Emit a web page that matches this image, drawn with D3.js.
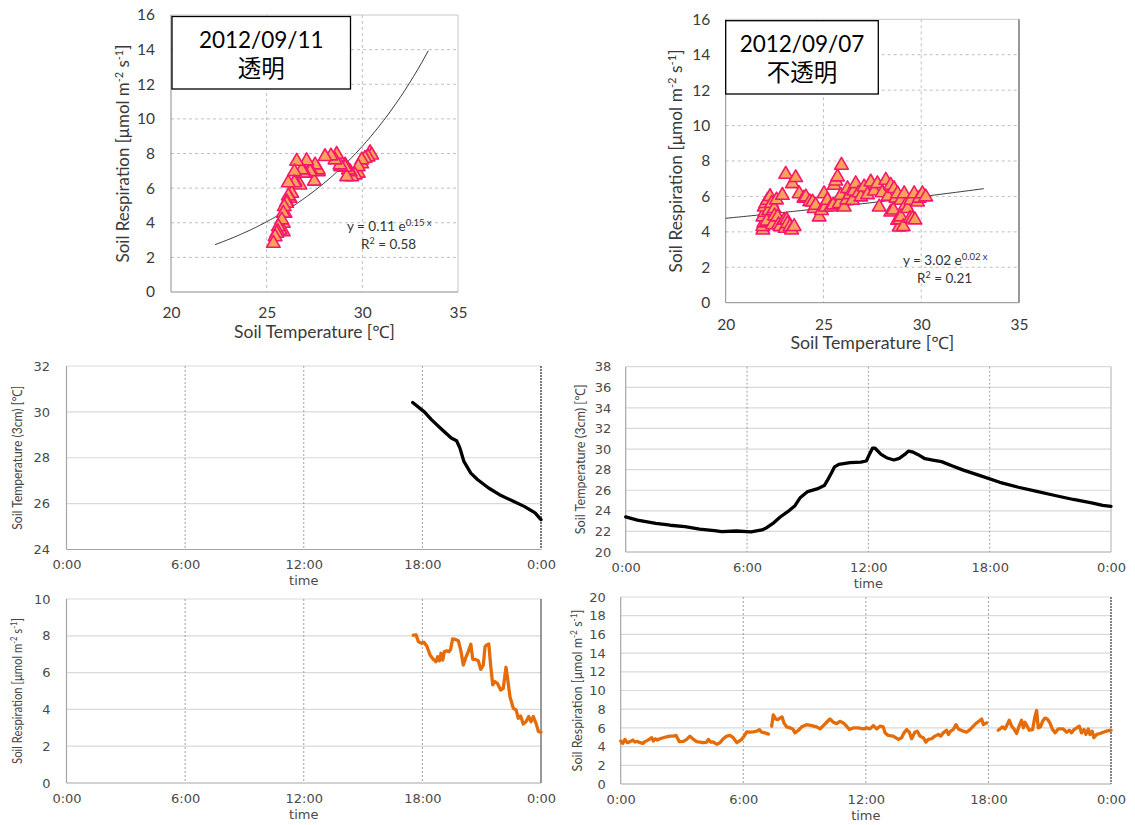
<!DOCTYPE html>
<html>
<head>
<meta charset="utf-8">
<script src="https://cdn.jsdelivr.net/npm/d3@7"></script>
<style>
  body { margin: 0; background: #ffffff; }
  svg { display: block; }
</style>
</head>
<body>
<svg id="chart" width="1135" height="825"></svg>
<script>
// ---------------- data ----------------
// Axis ticks
const scatterTempTicks = [20, 25, 30, 35];
const scatterRespTicks = [0, 2, 4, 6, 8, 10, 12, 14, 16];
const timeTickHours = [0, 6, 12, 18, 24];
const timeTickLabels = ["0:00", "6:00", "12:00", "18:00", "0:00"];
const clearTempTicks = [24, 26, 28, 30, 32];
const opaqueTempTicks = [20, 22, 24, 26, 28, 30, 32, 34, 36, 38];
const clearRespTicks = [0, 2, 4, 6, 8, 10];
const opaqueRespTicks = [0, 2, 4, 6, 8, 10, 12, 14, 16, 18, 20];

// Panel titles
const clearTitle = ["2012/09/11", "透明"];
const opaqueTitle = ["2012/09/07", "不透明"];

// Transparent chamber, 2012/09/11: soil temperature [°C] vs soil respiration
const clearScatterTemp = [30.40, 30.49, 30.30, 30.14, 29.97, 29.97, 29.79, 29.79, 29.62, 29.45, 29.36, 29.27, 29.18, 29.10, 29.10, 28.87, 28.83, 28.66, 28.57, 28.36, 28.05, 27.70, 27.70, 27.53, 27.49, 27.27, 27.27, 27.09, 27.00, 26.92, 26.83, 26.74, 26.57, 26.48, 26.45, 26.45, 26.31, 26.22, 26.13, 26.13, 26.05, 26.05, 25.96, 25.92, 25.87, 25.87, 25.87, 25.79, 25.70, 25.61, 25.58, 25.52, 25.44, 25.35];
const clearScatterResp = [8.05, 7.91, 7.80, 7.72, 7.40, 7.63, 6.86, 7.24, 6.76, 6.66, 6.95, 7.05, 6.66, 7.34, 7.20, 7.24, 7.34, 7.95, 7.63, 7.86, 7.82, 6.95, 7.05, 7.34, 6.40, 7.09, 6.95, 7.58, 6.86, 6.86, 7.05, 6.18, 7.55, 6.37, 6.95, 6.31, 5.70, 5.41, 6.31, 5.55, 5.22, 5.12, 4.55, 4.93, 4.55, 3.97, 3.48, 4.16, 3.58, 3.77, 3.48, 3.39, 3.19, 2.81];

// Opaque chamber, 2012/09/07
const opaqueScatterTemp = [21.90, 21.90, 21.95, 21.90, 22.00, 21.97, 22.05, 22.14, 22.20, 22.10, 22.27, 22.35, 22.40, 22.48, 22.50, 22.60, 22.65, 22.70, 22.78, 22.90, 22.99, 23.03, 23.07, 23.12, 23.16, 23.29, 23.37, 23.41, 23.50, 23.58, 23.76, 24.00, 24.10, 24.30, 24.44, 24.52, 24.60, 24.78, 24.90, 25.03, 25.10, 25.20, 25.38, 25.50, 25.55, 25.63, 25.72, 25.80, 25.89, 25.92, 26.06, 26.19, 26.23, 26.35, 26.48, 26.55, 26.65, 26.80, 26.91, 27.08, 27.25, 27.42, 27.60, 27.76, 27.85, 28.00, 28.19, 28.30, 28.44, 28.44, 28.57, 28.61, 28.70, 28.79, 28.79, 28.87, 28.91, 28.96, 28.96, 29.08, 29.13, 29.20, 29.30, 29.43, 29.47, 29.55, 29.64, 29.68, 29.81, 29.90, 30.06, 30.23];
const opaqueScatterResp = [4.10, 4.30, 4.50, 4.84, 5.10, 5.40, 5.60, 5.78, 5.20, 4.60, 5.99, 5.61, 4.40, 5.31, 4.90, 5.80, 4.84, 4.40, 4.29, 6.06, 4.65, 4.20, 7.25, 4.67, 4.46, 4.29, 4.10, 6.72, 4.30, 7.06, 6.15, 5.90, 5.97, 5.70, 5.68, 5.31, 5.50, 4.84, 5.20, 6.15, 5.40, 5.78, 5.40, 5.52, 6.63, 6.87, 7.10, 5.60, 6.06, 7.76, 5.40, 5.80, 6.44, 6.10, 5.78, 6.30, 6.72, 6.20, 5.97, 6.53, 6.10, 6.81, 6.30, 6.72, 5.40, 6.20, 6.91, 6.00, 6.63, 5.12, 5.23, 6.44, 5.90, 6.15, 4.65, 4.27, 4.67, 5.78, 4.84, 4.29, 6.15, 5.50, 5.31, 4.76, 5.78, 4.74, 6.15, 4.67, 5.68, 5.90, 6.15, 5.97];

// Exponential fits y = a·e^(b·x): [a, b], fitted temperature range, R²
const clearFitCoef = [0.1055, 0.146];
const clearFitRange = [22.3, 33.45];
const clearFitR2 = 0.58;
const opaqueFitCoef = [3.02, 0.0228];
const opaqueFitRange = [20, 33.2];
const opaqueFitR2 = 0.21;

// Soil temperature at 3 cm, 2012/09/11 (hour of day, °C)
const clearTempHour = [17.51, 18.10, 18.47, 19.00, 19.46, 19.73, 19.90, 20.10, 20.30, 20.45, 20.80, 21.35, 21.90, 22.60, 23.15, 23.70, 24.00];
const clearTempValue = [30.41, 30.00, 29.65, 29.22, 28.86, 28.74, 28.42, 27.84, 27.55, 27.33, 27.04, 26.68, 26.39, 26.10, 25.88, 25.60, 25.30];

// Soil temperature at 3 cm, 2012/09/07
const opaqueTempHour = [0, 0.58, 1.49, 2.20, 2.93, 3.66, 4.38, 4.75, 5.47, 6.20, 6.74, 6.92, 7.28, 7.64, 8.10, 8.37, 8.64, 9.00, 9.46, 9.82, 9.96, 10.18, 10.33, 10.54, 11.09, 11.63, 11.90, 12.05, 12.21, 12.32, 12.63, 12.90, 13.26, 13.53, 13.80, 13.98, 14.17, 14.44, 14.80, 15.25, 15.62, 16.16, 16.70, 17.60, 18.50, 19.42, 20.33, 21.23, 22.14, 23.04, 23.59, 24.00];
const opaqueTempValue = [23.41, 23.10, 22.77, 22.60, 22.46, 22.23, 22.07, 21.98, 22.04, 21.95, 22.14, 22.30, 22.77, 23.40, 24.05, 24.50, 25.30, 25.87, 26.13, 26.45, 26.90, 27.70, 28.27, 28.52, 28.68, 28.74, 28.84, 29.48, 30.10, 30.10, 29.48, 29.16, 28.94, 29.10, 29.48, 29.80, 29.73, 29.48, 29.06, 28.90, 28.78, 28.36, 27.95, 27.37, 26.77, 26.29, 25.90, 25.49, 25.10, 24.78, 24.53, 24.43];

// Soil respiration, 2012/09/11
const clearRespHour = [17.54, 17.68, 17.80, 17.97, 18.08, 18.22, 18.39, 18.55, 18.69, 18.77, 18.86, 18.94, 19.03, 19.11, 19.23, 19.35, 19.43, 19.53, 19.65, 19.82, 19.94, 20.07, 20.21, 20.32, 20.45, 20.55, 20.66, 20.83, 20.95, 21.08, 21.17, 21.25, 21.36, 21.46, 21.56, 21.67, 21.79, 21.96, 22.09, 22.23, 22.30, 22.43, 22.60, 22.74, 22.85, 22.97, 23.10, 23.24, 23.38, 23.50, 23.61, 23.75, 23.87, 24.00];
const clearRespValue = [8.03, 8.05, 7.68, 7.59, 7.65, 7.45, 6.96, 6.72, 6.59, 6.86, 6.64, 7.05, 6.68, 7.14, 7.18, 7.14, 7.27, 7.83, 7.81, 7.73, 7.22, 6.41, 6.86, 7.14, 7.54, 6.72, 6.72, 6.64, 6.18, 6.41, 7.41, 7.50, 7.55, 6.32, 5.33, 5.51, 5.42, 5.05, 5.14, 6.29, 5.78, 4.69, 4.06, 3.97, 3.52, 3.64, 3.21, 3.33, 3.61, 3.33, 3.61, 3.24, 2.79, 2.76];

// Soil respiration, 2012/09/07 (null = missing record)
const opaqueRespHour = [0, 0.10, 0.21, 0.33, 0.46, 0.59, 0.70, 0.82, 0.95, 1.08, 1.19, 1.31, 1.44, 1.52, 1.60, 1.70, 1.79, 1.92, 2.09, 2.25, 2.41, 2.58, 2.71, 2.87, 3.07, 3.23, 3.39, 3.56, 3.72, 3.88, 4.05, 4.21, 4.29, 4.40, 4.54, 4.70, 4.86, 5.02, 5.19, 5.35, 5.51, 5.68, 5.81, 5.92, 6.04, 6.17, 6.33, 6.49, 6.66, 6.79, 6.90, 7.06, 7.23,
  7.31,
  7.39, 7.47, 7.59, 7.68, 7.80, 7.90, 7.99, 8.12, 8.29, 8.42, 8.53, 8.70, 8.86, 9.10, 9.35, 9.59, 9.76, 9.92, 10.08, 10.24, 10.41, 10.57, 10.73, 10.90, 11.06, 11.19, 11.38, 11.63, 11.88, 12.04, 12.20, 12.37, 12.53, 12.69, 12.85, 12.94, 13.10, 13.34, 13.59, 13.75, 13.87, 14.00, 14.13, 14.24, 14.40, 14.52, 14.65, 14.81, 14.94, 15.06, 15.22, 15.38, 15.55, 15.66, 15.79, 15.95, 16.04, 16.15, 16.28, 16.41, 16.53, 16.77, 16.93, 17.10, 17.26, 17.42, 17.59, 17.67, 17.75, 17.83, 17.91,
  18.20,
  18.48, 18.56, 18.69, 18.81, 18.92, 19.02, 19.14, 19.25, 19.38, 19.51, 19.62, 19.71, 19.79, 19.90, 20.00, 20.16, 20.28, 20.36, 20.44, 20.55, 20.65, 20.77, 20.88, 21.01, 21.14, 21.26, 21.42, 21.66, 21.83, 21.96, 22.07, 22.19, 22.32, 22.45, 22.56, 22.68, 22.77, 22.89, 22.97, 23.08, 23.16, 23.30, 23.46, 23.62, 23.78, 24.00];
const opaqueRespValue = [4.60, 4.35, 4.77, 4.42, 4.53, 4.70, 4.49, 4.56, 4.42, 4.35, 4.53, 4.67, 4.84, 4.95, 4.60, 4.84, 4.70, 4.84, 4.95, 5.05, 5.12, 5.12, 5.19, 4.53, 4.56, 4.77, 5.12, 4.77, 4.53, 4.49, 4.42, 4.49, 4.77, 4.49, 4.49, 4.25, 4.42, 4.84, 5.12, 5.19, 4.95, 4.42, 4.60, 4.77, 5.12, 5.58, 5.54, 5.58, 5.65, 5.82, 5.54, 5.47, 5.33,
  null,
  6.18, 7.40, 6.95, 6.88, 7.05, 7.16, 6.53, 6.11, 6.00, 5.89, 5.47, 5.75, 6.11, 6.35, 6.25, 6.11, 5.89, 6.25, 6.60, 6.95, 6.60, 6.46, 6.70, 6.53, 6.18, 5.82, 6.00, 6.00, 5.89, 6.00, 5.89, 6.25, 5.89, 6.18, 6.11, 5.47, 5.19, 5.12, 4.77, 4.95, 5.47, 5.82, 5.54, 4.84, 5.54, 5.65, 5.12, 4.95, 4.49, 4.77, 4.84, 5.12, 5.30, 5.12, 5.47, 5.75, 5.30, 5.65, 5.82, 6.35, 5.89, 5.65, 5.54, 5.82, 6.18, 6.53, 6.81, 6.95, 6.35, 6.46, 6.53,
  null,
  5.75, 5.89, 6.11, 5.89, 6.35, 6.81, 6.18, 5.89, 5.40, 6.25, 6.81, 6.00, 6.60, 6.18, 5.75, 5.82, 7.23, 7.86, 6.00, 6.11, 6.70, 7.05, 6.95, 6.53, 5.82, 5.47, 5.89, 5.89, 5.54, 5.75, 5.47, 5.82, 6.00, 6.18, 5.47, 5.82, 5.30, 5.89, 5.30, 5.65, 4.95, 5.30, 5.40, 5.54, 5.65, 5.75];

// ---------------- drawing ----------------
const svg = d3.select("#chart");
const UI_FONT = "Lato, 'Open Sans', 'Noto Sans', sans-serif";
const TICK_FONT = "'DejaVu Sans', Verdana, sans-serif";
const CJK_FONT = "'Noto Sans CJK JP', 'Noto Sans CJK SC', sans-serif";
const RESP_COLOR = "#E46C0A";
const TRI_FILL = "#F9A35A";
const TRI_STROKE = "#F4176A";

// Squeeze/stretch a text (anchored at 0,0) to a given length
function fitLength(text, target) {
  const len = text.node().getComputedTextLength();
  if (len > 0) text.attr("transform", `scale(${target / len},1)`);
}

// "Soil Respiration [μmol m-2 s-1]" with raised exponents
function respirationLabel(text, size, supSize, shift) {
  text.attr("font-size", size);
  text.append("tspan").text("Soil Respiration [μmol m");
  text.append("tspan").attr("dy", -shift).attr("font-size", supSize).text("-2");
  text.append("tspan").attr("dy", shift).text(" s");
  text.append("tspan").attr("dy", -shift).attr("font-size", supSize).text("-1");
  text.append("tspan").attr("dy", shift).text("]");
}

function zip(xs, ys) { return xs.map((x, i) => ({ x, y: ys[i] })); }

// ---------- scatter panels ----------
function scatterPanel(cfg) {
  const g = svg.append("g");
  const x = d3.scaleLinear().domain([20, 35]).range([cfg.left, cfg.right]);
  const y = d3.scaleLinear().domain([0, 16]).range([cfg.bottom, cfg.top]);

  // dashed grid
  g.selectAll("line.hgrid").data(scatterRespTicks.slice(1, -1)).join("line")
    .attr("x1", cfg.left).attr("x2", cfg.right)
    .attr("y1", d => y(d)).attr("y2", d => y(d))
    .attr("stroke", "#BFBFBF").attr("stroke-width", 1).attr("stroke-dasharray", "3,3");
  g.selectAll("line.vgrid").data(scatterTempTicks.slice(1, -1)).join("line")
    .attr("x1", d => x(d)).attr("x2", d => x(d))
    .attr("y1", cfg.top).attr("y2", cfg.bottom)
    .attr("stroke", "#BFBFBF").attr("stroke-width", 1).attr("stroke-dasharray", "3,3");
  // frame
  g.append("line").attr("x1", cfg.left).attr("x2", cfg.right).attr("y1", cfg.top).attr("y2", cfg.top)
    .attr("stroke", "#C8C8C8");
  g.append("line").attr("x1", cfg.right).attr("x2", cfg.right).attr("y1", cfg.top).attr("y2", cfg.bottom)
    .attr("stroke", cfg.rightStroke);
  g.append("line").attr("x1", cfg.left).attr("x2", cfg.left).attr("y1", cfg.top).attr("y2", cfg.bottom)
    .attr("stroke", "#8C8C8C");
  g.append("line").attr("x1", cfg.left).attr("x2", cfg.right).attr("y1", cfg.bottom).attr("y2", cfg.bottom)
    .attr("stroke", "#8C8C8C");

  // tick labels
  const ay = g.append("g").attr("transform", `translate(${cfg.left},0)`)
    .call(d3.axisLeft(y).tickValues(scatterRespTicks).tickSize(0).tickPadding(cfg.yPad).tickFormat(d3.format("d")));
  const ax = g.append("g").attr("transform", `translate(0,${cfg.bottom})`)
    .call(d3.axisBottom(x).tickValues(scatterTempTicks).tickSize(0).tickPadding(cfg.xPad).tickFormat(d3.format("d")));
  [ay, ax].forEach(a => {
    a.select(".domain").remove();
    a.selectAll("text").attr("font-family", UI_FONT).attr("font-size", 15.5).attr("fill", "#3A3A3A");
  });

  // axis titles
  const yt = g.append("g").attr("transform", `translate(${cfg.yTitleX},${(cfg.top + cfg.bottom) / 2}) rotate(-90)`)
    .append("text").attr("text-anchor", "middle").attr("dy", "0.35em")
    .attr("font-family", UI_FONT).attr("fill", "#3A3A3A");
  respirationLabel(yt, 17, 11, 6);
  fitLength(yt, cfg.yTitleLen);

  const xt = g.append("g").attr("transform", `translate(${(cfg.left + cfg.right) / 2},${cfg.xTitleY})`)
    .append("text").attr("text-anchor", "middle").attr("dy", "0.35em")
    .attr("font-family", UI_FONT).attr("font-size", 17).attr("fill", "#3A3A3A")
    .text("Soil Temperature [℃]");
  fitLength(xt, cfg.xTitleLen);

  // fit curve
  const [a, b] = cfg.fitCoef;
  const fitPts = d3.range(0, 101).map(i => {
    const t = cfg.fitRange[0] + (cfg.fitRange[1] - cfg.fitRange[0]) * i / 100;
    return { x: t, y: a * Math.exp(b * t) };
  });
  g.append("path").datum(fitPts)
    .attr("d", d3.line().x(d => x(d.x)).y(d => y(d.y)))
    .attr("fill", "none").attr("stroke", "#222").attr("stroke-width", 0.9);

  // points
  const tri = d3.symbol().type(d3.symbolTriangle).size(80);
  g.selectAll("path.pt").data(zip(cfg.temps, cfg.resps)).join("path")
    .attr("transform", d => `translate(${x(d.x)},${y(d.y)})`)
    .attr("d", tri)
    .attr("fill", TRI_FILL).attr("stroke", TRI_STROKE).attr("stroke-width", 1.6)
    .attr("stroke-linejoin", "round");

  // equation
  const eq = g.append("text").attr("x", cfg.eqX).attr("y", cfg.eqY)
    .attr("font-family", UI_FONT).attr("font-size", 13.5).attr("fill", "#333");
  eq.append("tspan").text(`y = ${d3.format(".2f")(a)} e`);
  eq.append("tspan").attr("dy", -5).attr("font-size", 9.5).text(`${d3.format(".2f")(b)} x`);
  const r2 = g.append("text").attr("x", cfg.r2X).attr("y", cfg.eqY + 18)
    .attr("font-family", UI_FONT).attr("font-size", 13.5).attr("fill", "#333");
  r2.append("tspan").text("R");
  r2.append("tspan").attr("dy", -5).attr("font-size", 9).text("2");
  r2.append("tspan").attr("dy", 5).text(` = ${d3.format(".2f")(cfg.r2)}`);

  // title box: date on the first line, chamber type on the second
  g.append("rect").attr("x", cfg.box[0]).attr("y", cfg.box[1])
    .attr("width", cfg.box[2]).attr("height", cfg.box[3])
    .attr("fill", "#fff").attr("stroke", "#000").attr("stroke-width", 1.3);
  const cx = cfg.box[0] + cfg.box[2] / 2;
  const title = g.append("text").attr("text-anchor", "middle").attr("fill", "#000");
  title.append("tspan").attr("x", cx).attr("y", cfg.box[1] + 31.5)
    .attr("font-family", UI_FONT).attr("font-size", 22.5).text(cfg.title[0]);
  title.append("tspan").attr("x", cx).attr("y", cfg.box[1] + 60.5)
    .attr("font-family", CJK_FONT).attr("font-size", 23.5).text(cfg.title[1]);
}

scatterPanel({
  left: 171, right: 458, top: 15, bottom: 292,
  yPad: 16, xPad: 15, yTitleX: 123.5, yTitleLen: 218, xTitleY: 332.5, xTitleLen: 161,
  rightStroke: "#C8C8C8",
  temps: clearScatterTemp, resps: clearScatterResp,
  fitCoef: clearFitCoef, fitRange: clearFitRange, r2: clearFitR2,
  eqX: 347, eqY: 231, r2X: 361,
  box: [172, 16.5, 178.5, 72.5], title: clearTitle
});

scatterPanel({
  left: 725.7, right: 1019, top: 19.3, bottom: 302.7,
  yPad: 15.5, xPad: 16.5, yTitleX: 676.5, yTitleLen: 223, xTitleY: 343, xTitleLen: 164,
  rightStroke: "#333",
  temps: opaqueScatterTemp, resps: opaqueScatterResp,
  fitCoef: opaqueFitCoef, fitRange: opaqueFitRange, r2: opaqueFitR2,
  eqX: 903, eqY: 265, r2X: 917,
  box: [725.7, 20.7, 152.6, 73.3], title: opaqueTitle
});

// ---------- time-series panels ----------
function timePanel(cfg) {
  const g = svg.append("g");
  const x = d3.scaleLinear().domain([0, 24]).range([cfg.left, cfg.right]);
  const y = d3.scaleLinear().domain(d3.extent(cfg.yTicks)).range([cfg.bottom, cfg.top]);

  g.selectAll("line.hgrid").data(cfg.yTicks.slice(1)).join("line")
    .attr("x1", cfg.left).attr("x2", cfg.right)
    .attr("y1", d => y(d)).attr("y2", d => y(d))
    .attr("stroke", "#D9D9D9").attr("stroke-width", 1.2);
  g.selectAll("line.vgrid").data(timeTickHours.slice(1, -1)).join("line")
    .attr("x1", d => x(d)).attr("x2", d => x(d))
    .attr("y1", cfg.top).attr("y2", cfg.bottom)
    .attr("stroke", "#A0A0A0").attr("stroke-width", 1).attr("stroke-dasharray", "2,2");
  g.append("line").attr("x1", cfg.right).attr("x2", cfg.right).attr("y1", cfg.top).attr("y2", cfg.bottom)
    .attr("stroke", cfg.rightStroke).attr("stroke-width", 1.2).attr("stroke-dasharray", cfg.rightDash);
  g.append("line").attr("x1", cfg.left).attr("x2", cfg.left).attr("y1", cfg.top).attr("y2", cfg.bottom)
    .attr("stroke", "#A6A6A6").attr("stroke-width", 1.2);
  g.append("line").attr("x1", cfg.left).attr("x2", cfg.right).attr("y1", cfg.bottom).attr("y2", cfg.bottom)
    .attr("stroke", "#A6A6A6").attr("stroke-width", 1.2);

  const ay = g.append("g").attr("transform", `translate(${cfg.left},0)`)
    .call(d3.axisLeft(y).tickValues(cfg.yTicks).tickSize(0).tickPadding(cfg.yPad).tickFormat(d3.format("d")));
  const ax = g.append("g").attr("transform", `translate(0,${cfg.bottom})`)
    .call(d3.axisBottom(x).tickValues(timeTickHours).tickSize(0).tickPadding(10.5)
      .tickFormat((d, i) => timeTickLabels[i]));
  [ay, ax].forEach(a => {
    a.select(".domain").remove();
    a.selectAll("text").attr("font-family", TICK_FONT).attr("font-size", 13).attr("fill", "#4A4A4A");
  });

  g.append("text").attr("x", (cfg.left + cfg.right) / 2).attr("y", cfg.bottom + 31).attr("dy", "0.35em")
    .attr("text-anchor", "middle").attr("font-family", TICK_FONT).attr("font-size", 13)
    .attr("fill", "#4A4A4A").text("time");

  const yt = g.append("g").attr("transform", `translate(${cfg.yTitleX},${(cfg.top + cfg.bottom) / 2}) rotate(-90)`)
    .append("text").attr("text-anchor", "middle").attr("dy", "0.35em")
    .attr("font-family", UI_FONT).attr("fill", "#444");
  if (cfg.kind === "temp") {
    yt.attr("font-size", 13.5).text("Soil Temperature (3cm) [℃]");
  } else {
    respirationLabel(yt, 13.5, 9, 4.5);
  }
  fitLength(yt, cfg.yTitleLen);

  const series = zip(cfg.hours, cfg.values);
  g.append("path").datum(series)
    .attr("d", d3.line().defined(d => d.y != null).x(d => x(d.x)).y(d => y(d.y)))
    .attr("fill", "none").attr("stroke", cfg.color).attr("stroke-width", 3.3)
    .attr("stroke-linejoin", "round").attr("stroke-linecap", "round");
}

timePanel({
  kind: "temp", left: 66.5, right: 541, top: 366, bottom: 549.5,
  yTicks: clearTempTicks, yPad: 16.5, yTitleX: 17, yTitleLen: 144,
  rightStroke: "#222", rightDash: "2,1",
  hours: clearTempHour, values: clearTempValue, color: "#000"
});
timePanel({
  kind: "temp", left: 625.7, right: 1111, top: 366.7, bottom: 552,
  yTicks: opaqueTempTicks, yPad: 14.5, yTitleX: 580, yTitleLen: 150,
  rightStroke: "#BDBDBD", rightDash: null,
  hours: opaqueTempHour, values: opaqueTempValue, color: "#000"
});
timePanel({
  kind: "resp", left: 66.5, right: 541, top: 599, bottom: 783,
  yTicks: clearRespTicks, yPad: 16, yTitleX: 17, yTitleLen: 146,
  rightStroke: "#555", rightDash: null,
  hours: clearRespHour, values: clearRespValue, color: RESP_COLOR
});
timePanel({
  kind: "resp", left: 620.7, right: 1111, top: 597, bottom: 784,
  yTicks: opaqueRespTicks, yPad: 15, yTitleX: 577, yTitleLen: 162,
  rightStroke: "#333", rightDash: "2,1",
  hours: opaqueRespHour, values: opaqueRespValue, color: RESP_COLOR
});
</script>
</body>
</html>
